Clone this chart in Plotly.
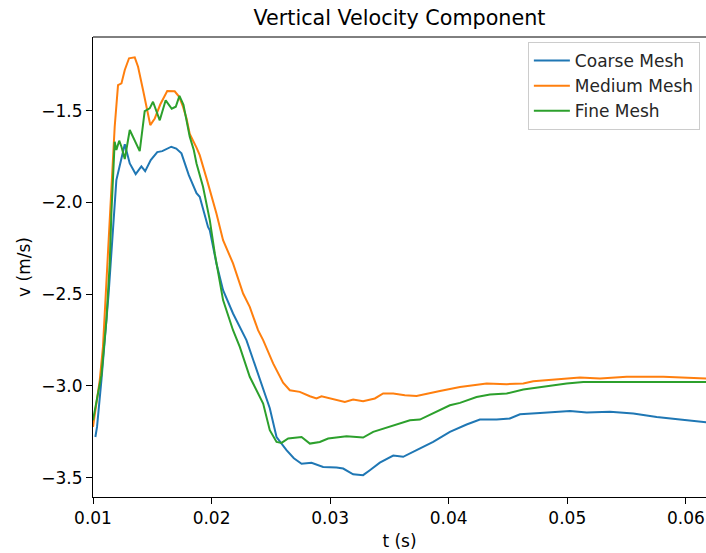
import plotly.graph_objects as go

# Coarse Mesh
t_coarse = [0.01020, 0.01034, 0.01071, 0.01132, 0.01197, 0.01240, 0.01268, 0.01310, 0.01360,
            0.01408, 0.01440, 0.01487, 0.01542, 0.01584, 0.01622, 0.01660, 0.01702, 0.01746,
            0.01808, 0.01873, 0.01900, 0.01970, 0.01985, 0.02041, 0.02097, 0.02181, 0.02294,
            0.02407, 0.02491, 0.02548, 0.02632, 0.02694, 0.02759, 0.02843, 0.02941, 0.03054,
            0.03110, 0.03194, 0.03278, 0.03335, 0.03419, 0.03532, 0.03616, 0.03729, 0.03869,
            0.04010, 0.04151, 0.04263, 0.04404, 0.04516, 0.04601, 0.04770, 0.05023, 0.05164,
            0.05360, 0.05557, 0.05754, 0.05951, 0.06162, 0.06200]
v_coarse = [-3.279, -3.224, -2.969, -2.495, -1.879, -1.752, -1.683, -1.788, -1.846,
            -1.804, -1.830, -1.770, -1.726, -1.721, -1.710, -1.697, -1.707, -1.733,
            -1.852, -1.950, -1.970, -2.134, -2.152, -2.333, -2.479, -2.606, -2.751,
            -2.959, -3.122, -3.279, -3.351, -3.395, -3.425, -3.420, -3.442, -3.445,
            -3.451, -3.482, -3.487, -3.460, -3.419, -3.380, -3.387, -3.351, -3.306,
            -3.251, -3.211, -3.184, -3.184, -3.178, -3.155, -3.148, -3.137, -3.146,
            -3.142, -3.151, -3.170, -3.184, -3.197, -3.200]

# Medium Mesh
t_medium = [0.01000, 0.01057, 0.01084, 0.01113, 0.01141, 0.01155, 0.01169, 0.01183, 0.01211,
            0.01240, 0.01268, 0.01304, 0.01352, 0.01380, 0.01422, 0.01464, 0.01483, 0.01521,
            0.01567, 0.01626, 0.01689, 0.01727, 0.01759, 0.01788, 0.01816, 0.01873, 0.01900,
            0.01957, 0.02041, 0.02097, 0.02181, 0.02266, 0.02322, 0.02392, 0.02435, 0.02519,
            0.02603, 0.02660, 0.02744, 0.02829, 0.02885, 0.02927, 0.03025, 0.03124, 0.03194,
            0.03278, 0.03377, 0.03447, 0.03532, 0.03630, 0.03729, 0.03814, 0.03926, 0.04095,
            0.04320, 0.04489, 0.04629, 0.04713, 0.04911, 0.05107, 0.05276, 0.05501, 0.05810,
            0.06162, 0.06200]
v_medium = [-3.224, -2.969, -2.788, -2.424, -2.061, -1.888, -1.715, -1.588, -1.361,
            -1.352, -1.279, -1.215, -1.210, -1.261, -1.388, -1.534, -1.579, -1.543,
            -1.467, -1.394, -1.395, -1.425, -1.479, -1.541, -1.628, -1.702, -1.743,
            -1.868, -2.061, -2.206, -2.333, -2.497, -2.570, -2.697, -2.751, -2.878,
            -2.983, -3.024, -3.033, -3.057, -3.069, -3.057, -3.073, -3.088, -3.075,
            -3.084, -3.069, -3.042, -3.042, -3.051, -3.055, -3.042, -3.028, -3.006,
            -2.987, -2.991, -2.987, -2.975, -2.966, -2.955, -2.960, -2.951, -2.951,
            -2.960, -2.961]

# Fine Mesh
t_fine = [0.01000, 0.01031, 0.01071, 0.01113, 0.01141, 0.01155, 0.01166, 0.01183, 0.01197,
          0.01221, 0.01240, 0.01268, 0.01310, 0.01352, 0.01394, 0.01436, 0.01478, 0.01506,
          0.01563, 0.01613, 0.01664, 0.01698, 0.01729, 0.01763, 0.01816, 0.01850, 0.01873,
          0.01928, 0.01985, 0.02027, 0.02097, 0.02181, 0.02238, 0.02322, 0.02377, 0.02435,
          0.02491, 0.02548, 0.02590, 0.02646, 0.02759, 0.02829, 0.02913, 0.02983, 0.03138,
          0.03278, 0.03363, 0.03447, 0.03532, 0.03673, 0.03757, 0.03926, 0.04010, 0.04095,
          0.04235, 0.04348, 0.04489, 0.04629, 0.04826, 0.04995, 0.05135, 0.05388, 0.05810,
          0.06162, 0.06200]
v_fine = [-3.188, -3.079, -2.942, -2.642, -2.333, -2.061, -1.879, -1.670, -1.715,
          -1.664, -1.697, -1.764, -1.606, -1.661, -1.721, -1.503, -1.488, -1.452,
          -1.553, -1.444, -1.490, -1.479, -1.420, -1.468, -1.643, -1.715, -1.788,
          -1.915, -2.097, -2.279, -2.533, -2.697, -2.788, -2.951, -3.024, -3.097,
          -3.242, -3.306, -3.311, -3.287, -3.279, -3.315, -3.306, -3.287, -3.275,
          -3.282, -3.251, -3.233, -3.215, -3.188, -3.184, -3.129, -3.106, -3.093,
          -3.061, -3.047, -3.042, -3.020, -3.002, -2.987, -2.979, -2.979, -2.979,
          -2.979, -2.979]

series_names = ["Coarse Mesh", "Medium Mesh", "Fine Mesh"]
colors = ["#1f77b4", "#ff7f0e", "#2ca02c"]
x_ticks = [0.01, 0.02, 0.03, 0.04, 0.05, 0.06]
x_tick_labels = ["0.01", "0.02", "0.03", "0.04", "0.05", "0.06"]
y_ticks = [-3.5, -3.0, -2.5, -2.0, -1.5]
y_tick_labels = ["\u22123.5", "\u22123.0", "\u22122.5", "\u22122.0", "\u22121.5"]

FONT = "DejaVu Sans"
FS = 17

fig = go.Figure()
for i, (t, v) in enumerate([(t_coarse, v_coarse), (t_medium, v_medium), (t_fine, v_fine)]):
    fig.add_trace(go.Scatter(x=t, y=v, mode="lines", name=series_names[i],
                             line=dict(color=colors[i], width=2)))

fig.update_layout(
    width=706, height=553,
    margin=dict(l=93, r=0, t=37, b=56),
    paper_bgcolor="white", plot_bgcolor="white",
    font=dict(family=FONT, size=FS, color="black"),
    title=dict(text="Vertical Velocity Component", x=0.5, xref="paper",
               y=1 - 18 / 553, yref="container", yanchor="middle", xanchor="center",
               font=dict(family=FONT, size=20.7, color="black")),
    showlegend=True,
    legend=dict(x=0.99, y=0.989, xanchor="right", yanchor="top",
                bgcolor="rgba(255,255,255,0.8)", bordercolor="#cccccc", borderwidth=1,
                font=dict(family=FONT, size=FS, color="#262626"),
                itemwidth=36),
)
fig.update_xaxes(range=[0.01, 0.0617], tickvals=x_ticks, ticktext=x_tick_labels,
                 showgrid=False, zeroline=False, showline=True, linecolor="black", linewidth=1,
                 mirror=False, ticks="outside", ticklen=6, tickcolor="black",
                 title=dict(text="t (s)", standoff=7, font=dict(size=FS)))
fig.update_yaxes(range=[-3.606, -1.099], tickvals=y_ticks, ticktext=y_tick_labels,
                 showgrid=False, zeroline=False, showline=True, linecolor="black", linewidth=1,
                 ticks="outside", ticklen=6, tickcolor="black",
                 title=dict(text="v (m/s)", standoff=6, font=dict(size=FS)))
# top spine
fig.add_shape(type="line", xref="paper", yref="paper", x0=0, x1=1, y0=1, y1=1,
              line=dict(color="black", width=1))

fig.write_html("out.html")
